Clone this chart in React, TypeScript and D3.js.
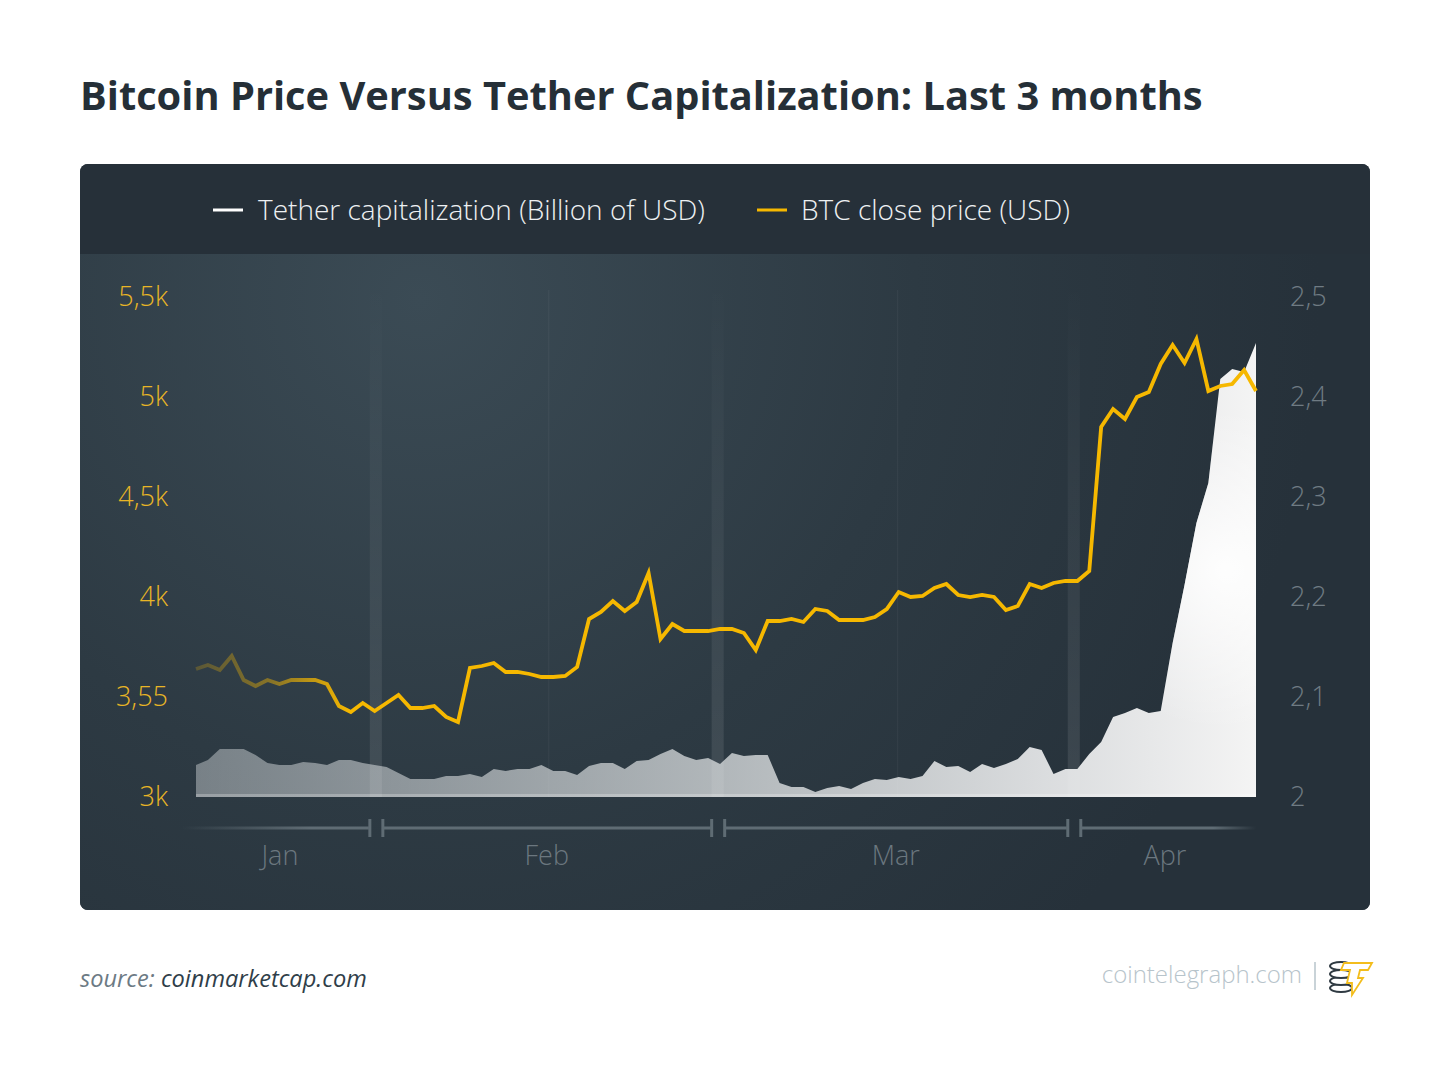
import * as d3 from "d3";

// daily values, mid-Jan to mid-Apr
const btcClose = [
  3640, 3660, 3635, 3705, 3585, 3555, 3585, 3565, 3585, 3585,
  3585, 3565, 3455, 3425, 3470, 3430, 3470, 3510, 3445, 3445,
  3455, 3400, 3375, 3645, 3655, 3670, 3625, 3625, 3615, 3600,
  3600, 3605, 3650, 3890, 3925, 3980, 3930, 3975, 4120, 3790,
  3865, 3830, 3830, 3830, 3840, 3840, 3820, 3735, 3880, 3880,
  3890, 3875, 3940, 3930, 3885, 3885, 3885, 3900, 3940, 4025,
  4000, 4005, 4045, 4065, 4010, 4000, 4010, 4000, 3935, 3955,
  4065, 4045, 4070, 4080, 4080, 4130, 4850, 4940, 4890, 5000,
  5025, 5165, 5260, 5170, 5290, 5030, 5055, 5065, 5135, 5030,
];

const tetherCap = [
  2.032, 2.037, 2.048, 2.048, 2.048, 2.042, 2.034, 2.032, 2.032, 2.035,
  2.034, 2.032, 2.037, 2.037, 2.034, 2.032, 2.030, 2.024, 2.018, 2.018,
  2.018, 2.021, 2.021, 2.023, 2.020, 2.028, 2.026, 2.028, 2.028, 2.032,
  2.026, 2.026, 2.022, 2.031, 2.034, 2.034, 2.028, 2.036, 2.037, 2.043,
  2.048, 2.041, 2.037, 2.039, 2.033, 2.044, 2.041, 2.042, 2.042, 2.014,
  2.010, 2.010, 2.005, 2.009, 2.011, 2.008, 2.014, 2.018, 2.017, 2.020,
  2.018, 2.021, 2.036, 2.030, 2.031, 2.025, 2.033, 2.029, 2.033, 2.038,
  2.050, 2.047, 2.023, 2.028, 2.028, 2.043, 2.055, 2.080, 2.084, 2.089,
  2.084, 2.086, 2.154, 2.212, 2.274, 2.314, 2.418, 2.428, 2.425, 2.454,
];

const btcTicks = [3000, 3500, 4000, 4500, 5000, 5500];
const btcTickLabels = ["3k", "3,55", "4k", "4,5k", "5k", "5,5k"];
const tetherTicks = [2, 2.1, 2.2, 2.3, 2.4, 2.5];
const tetherTickLabels = ["2", "2,1", "2,2", "2,3", "2,4", "2,5"];

const months = ["Jan", "Feb", "Mar", "Apr"];
// month breaks, in day index
const monthBreaks = [15.1, 43.8, 73.7];

const legendItems = ["Tether capitalization (Billion of USD)", "BTC close price (USD)"];

const FONT = "'Open Sans', sans-serif";
const YELLOW = "#f6b800";

export default function App() {
  const width = 1450;
  const height = 1085;
  const left = 196;
  const right = 1256;
  const top = 297;
  const bottom = 797;

  const x = d3.scaleLinear().domain([0, btcClose.length - 1]).range([left, right]);
  const yBtc = d3.scaleLinear().domain([3000, 5500]).range([bottom, top]);
  const yTether = d3.scaleLinear().domain([2, 2.5]).range([bottom, top]);

  const btcLine = d3
    .line<number>()
    .x((_, i) => x(i))
    .y((d) => yBtc(d));
  const tetherArea = d3
    .area<number>()
    .x((_, i) => x(i))
    .y0(bottom)
    .y1((d) => yTether(d));

  const axisY = 828;
  const axisStart = 182;
  const breaksX = monthBreaks.map((b) => x(b));
  const segs = [axisStart, ...breaksX, right];
  const monthCenters = months.map((_, i) => (segs[i] + segs[i + 1]) / 2 + (i === 0 ? 1 : 0));

  return (
    <div style={{ position: "fixed", left: 0, top: 0, background: "#fff" }}>
      <svg width={width} height={height} viewBox={`0 0 ${width} ${height}`} style={{ display: "block" }}>
        <defs>
          <radialGradient id="glow" cx="420" cy="300" r="900" gradientUnits="userSpaceOnUse">
            <stop offset="0" stopColor="#3b4b55" />
            <stop offset="0.55" stopColor="#2d3a43" />
            <stop offset="1" stopColor="#26313a" />
          </radialGradient>
          <linearGradient id="areaFill" x1={left} x2={right} y1="0" y2="0" gradientUnits="userSpaceOnUse">
            <stop offset="0" stopColor="#dfe3e5" stopOpacity="0.42" />
            <stop offset="0.5" stopColor="#e6e9ea" stopOpacity="0.72" />
            <stop offset="0.8" stopColor="#eeeff0" stopOpacity="0.9" />
            <stop offset="1" stopColor="#f4f4f4" stopOpacity="1" />
          </linearGradient>
          <radialGradient id="areaShine" cx="1225" cy="570" r="160" gradientUnits="userSpaceOnUse">
            <stop offset="0" stopColor="#ffffff" stopOpacity="0.9" />
            <stop offset="1" stopColor="#ffffff" stopOpacity="0" />
          </radialGradient>
          <linearGradient id="btcStroke" x1={left} x2="350" y1="0" y2="0" gradientUnits="userSpaceOnUse">
            <stop offset="0" stopColor={YELLOW} stopOpacity="0.22" />
            <stop offset="0.5" stopColor={YELLOW} stopOpacity="0.45" />
            <stop offset="1" stopColor={YELLOW} stopOpacity="1" />
          </linearGradient>
          <linearGradient id="axisFade" x1={axisStart} x2={right} y1="0" y2="0" gradientUnits="userSpaceOnUse">
            <stop offset="0" stopColor="#5f6c74" stopOpacity="0" />
            <stop offset="0.12" stopColor="#5f6c74" stopOpacity="1" />
            <stop offset="0.96" stopColor="#5f6c74" stopOpacity="1" />
            <stop offset="1" stopColor="#5f6c74" stopOpacity="0" />
          </linearGradient>
          <linearGradient id="band" x1="0" x2="0" y1="280" y2={bottom} gradientUnits="userSpaceOnUse">
            <stop offset="0" stopColor="#ffffff" stopOpacity="0" />
            <stop offset="1" stopColor="#ffffff" stopOpacity="0.1" />
          </linearGradient>
          <clipPath id="panelClip">
            <rect x={80} y={164} width={1290} height={746} rx={8} />
          </clipPath>
        </defs>

        <text x={80} y={110} fontFamily={FONT} fontWeight={700} fontSize={39.8} fill="#252f37">
          Bitcoin Price Versus Tether Capitalization: Last 3 months
        </text>

        <g clipPath="url(#panelClip)">
          <rect x={80} y={164} width={1290} height={746} fill="#26313a" />
          <rect x={80} y={254} width={1290} height={656} fill="url(#glow)" />
          <rect x={80} y={164} width={1290} height={90} fill="#263039" />
        </g>

        {/* legend */}
        <g fontFamily={FONT} fontWeight={300} fontSize={28} fill="#eef1f3">
          <line x1={213} x2={243} y1={210} y2={210} stroke="#ffffff" strokeWidth={3} />
          <text x={258} y={220}>{legendItems[0]}</text>
          <line x1={757} x2={787} y1={210} y2={210} stroke={YELLOW} strokeWidth={3} />
          <text x={801} y={220}>{legendItems[1]}</text>
        </g>

        {/* month bands and faint mid lines */}
        {breaksX.map((bx) => (
          <rect key={bx} x={bx - 6} y={280} width={12} height={bottom - 280} fill="url(#band)" />
        ))}
        {monthCenters.slice(1, 3).map((cx) => (
          <line key={cx} x1={cx + 2} x2={cx + 2} y1={290} y2={bottom} stroke="#ffffff" strokeOpacity={0.05} />
        ))}

        <path d={tetherArea(tetherCap) ?? ""} fill="url(#areaFill)" />
        <path d={tetherArea(tetherCap) ?? ""} fill="url(#areaShine)" />
        <rect x={left} y={bottom - 3} width={right - left} height={3} fill="#ffffff" opacity={0.25} />

        <path
          d={btcLine(btcClose) ?? ""}
          fill="none"
          stroke="url(#btcStroke)"
          strokeWidth={3.8}
          strokeLinejoin="miter"
        />

        {/* y axes */}
        <g fontFamily={FONT} fontWeight={300} fontSize={27}>
          {btcTicks.map((t, i) => (
            <text key={t} x={168} y={yBtc(t) + 9} textAnchor="end" fill="#e8b526">
              {btcTickLabels[i]}
            </text>
          ))}
          {tetherTicks.map((t, i) => (
            <text key={t} x={1290} y={yTether(t) + 9} fill="#6f7b83">
              {tetherTickLabels[i]}
            </text>
          ))}
        </g>

        {/* month axis */}
        <g stroke="url(#axisFade)" strokeWidth={3}>
          {months.map((m, i) => (
            <line key={m} x1={segs[i] + (i === 0 ? 0 : 7)} x2={segs[i + 1] - (i === 3 ? 0 : 7)} y1={axisY} y2={axisY} />
          ))}
        </g>
        <g stroke="#5f6c74" strokeWidth={3}>
          {breaksX.map((bx) => (
            <g key={bx}>
              <line x1={bx - 6} x2={bx - 6} y1={axisY - 9} y2={axisY + 9} />
              <line x1={bx + 7} x2={bx + 7} y1={axisY - 9} y2={axisY + 9} />
            </g>
          ))}
        </g>
        <g fontFamily={FONT} fontWeight={300} fontSize={27} fill="#6b777f" textAnchor="middle">
          {months.map((m, i) => (
            <text key={m} x={monthCenters[i]} y={865}>
              {m}
            </text>
          ))}
        </g>

        {/* footer */}
        <text x={80} y={987} fontFamily={FONT} fontStyle="italic" fontSize={23.6}>
          <tspan fill="#6c7a84">source: </tspan>
          <tspan fill="#2f3e49">coinmarketcap.com</tspan>
        </text>
        <text x={1302} y={983} textAnchor="end" fontFamily={FONT} fontWeight={300} fontSize={24} fill="#b7c4cb">
          cointelegraph.com
        </text>
        <line x1={1315} x2={1315} y1={962} y2={990} stroke="#b7c4cb" strokeWidth={1.5} />
        <g fill="#ffffff" stroke="#2f3a42" strokeWidth={2}>
          <ellipse cx={1341} cy={988} rx={11} ry={4} />
          <ellipse cx={1341} cy={981} rx={11} ry={4} />
          <ellipse cx={1341} cy={974} rx={11} ry={4} />
          <ellipse cx={1341} cy={966} rx={11} ry={4} />
        </g>
        <path
          d="M1344 963 L1372 963 L1368 970 L1360 970 L1358 978 L1363 978 L1352 995 L1352 983 L1347 983 L1350 970 L1341 970 Z"
          fill="#ffffff"
          stroke="#f3bd1c"
          strokeWidth={1.8}
          strokeLinejoin="miter"
        />
      </svg>
    </div>
  );
}
